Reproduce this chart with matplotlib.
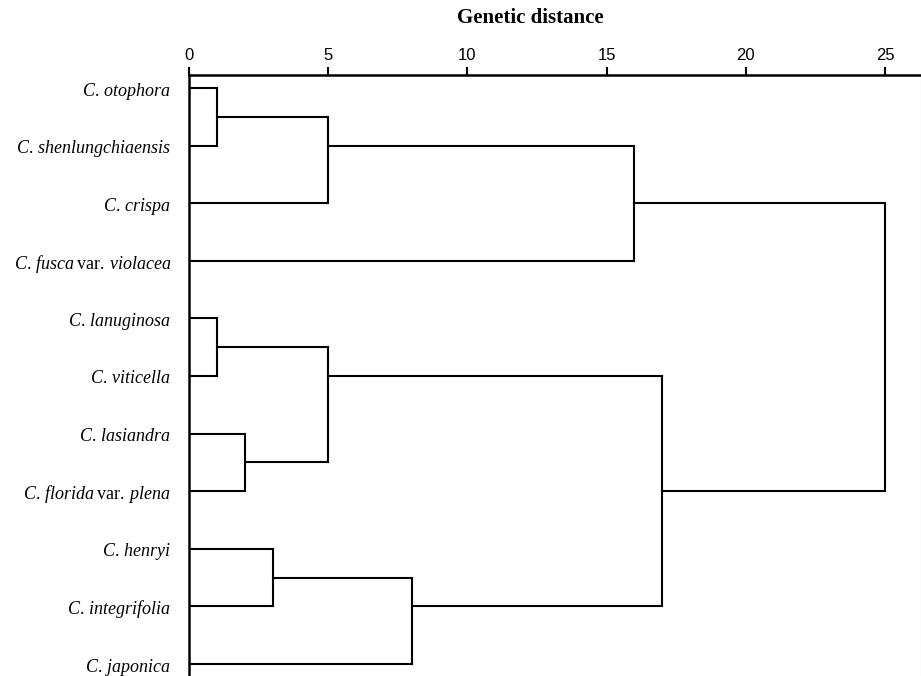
import matplotlib
matplotlib.use("Agg")
import matplotlib.pyplot as plt
import math

plt.rcParams['mathtext.fontset'] = 'custom'
plt.rcParams['mathtext.rm'] = 'Liberation Serif'
plt.rcParams['mathtext.it'] = 'Liberation Serif:italic'
plt.rcParams['mathtext.bf'] = 'Liberation Serif:bold'

# ---- data ----
leaf_labels = [
    r"$\mathit{C.}\,\mathit{otophora}$",
    r"$\mathit{C.}\,\mathit{shenlungchiaensis}$",
    r"$\mathit{C.}\,\mathit{crispa}$",
    r"$\mathit{C.}\,\mathit{fusca}\:\mathrm{var.}\:\mathit{violacea}$",
    r"$\mathit{C.}\,\mathit{lanuginosa}$",
    r"$\mathit{C.}\,\mathit{viticella}$",
    r"$\mathit{C.}\,\mathit{lasiandra}$",
    r"$\mathit{C.}\,\mathit{florida}\:\mathrm{var.}\:\mathit{plena}$",
    r"$\mathit{C.}\,\mathit{henryi}$",
    r"$\mathit{C.}\,\mathit{integrifolia}$",
    r"$\mathit{C.}\,\mathit{japonica}$",
]
# merges: new cluster ids start at len(leaf_labels)
merge_a = [0, 4, 6, 8, 11, 12, 14, 15, 16, 18]
merge_b = [1, 5, 7, 9, 2, 13, 10, 3, 17, 19]
merge_dist = [1, 1, 2, 3, 5, 5, 8, 16, 17, 25]
x_ticks = [0, 5, 10, 15, 20, 25]

# ---- figure ----
W, H = 921, 676
fig = plt.figure(figsize=(W / 100, H / 100), dpi=100)
ax_left, ax_top = 189, 75
ax = fig.add_axes([ax_left / W, 0, 1 - ax_left / W, 1 - ax_top / H])

n = len(leaf_labels)
ypos = {i: float(i) for i in range(n)}
xpos = {i: 0.0 for i in range(n)}
for k, (a, b, d) in enumerate(zip(merge_a, merge_b, merge_dist)):
    nid = n + k
    ya, yb = ypos[a], ypos[b]
    for c in (a, b):
        ax.plot([xpos[c], d], [ypos[c], ypos[c]], color='black', lw=1.5,
                solid_capstyle='projecting')
    ax.plot([d, d], [ya, yb], color='black', lw=1.5, solid_capstyle='projecting')
    mid = (ya + yb) / 2
    if a < n and b < n:
        ypos[nid] = mid
    else:
        ypos[nid] = math.floor(mid)
    xpos[nid] = d

px_per_unit = (885 - 189) / 25.0
ax.set_xlim(0, (W - ax_left) / px_per_unit)
row_px = (664 - 88) / 10.0
ax.set_ylim(10 + (676 - 664) / row_px, -(88 - 75) / row_px)

ax.xaxis.tick_top()
ax.set_xticks(x_ticks)
ax.set_xticklabels([str(t) for t in x_ticks], fontfamily='Liberation Sans')
ax.tick_params(axis='x', direction='out', length=6, width=1.5, pad=3,
               colors='black', labelsize=12)

ax.set_yticks(range(n))
ax.set_yticklabels(leaf_labels, fontsize=13)
ax.tick_params(axis='y', length=0, pad=13)

ax.spines['bottom'].set_visible(False)
ax.spines['top'].set_linewidth(1.8)
ax.spines['left'].set_linewidth(1.8)
ax.spines['right'].set_color('#d0d0d0')
ax.spines['right'].set_linewidth(0.8)

fig.text(530 / W, 1 - 18 / H, "Genetic distance", ha='center', va='center',
         fontfamily='Liberation Serif', fontweight='bold', fontsize=15)

fig.savefig("out.png", dpi=100)
